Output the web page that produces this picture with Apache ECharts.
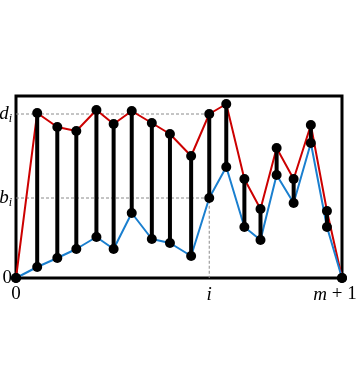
<!DOCTYPE html>
<html>
<head>
<meta charset="utf-8">
<script src="https://cdn.jsdelivr.net/npm/echarts@6/dist/echarts.min.js"></script>
<style>html,body{margin:0;padding:0;background:#fff}#c{width:360px;height:365px}</style>
</head>
<body>
<div id="c"></div>
<script>
// positions along x (index units, 0 .. m+1)
var xs = [0, 1.17, 2.28, 3.33, 4.44, 5.39, 6.39, 7.5, 8.5, 9.67, 10.67, 11.61, 12.61, 13.5, 14.39, 15.33, 16.28, 17.17, 18];
// upper (red) values d
var upper = [0, 165, 151, 147, 168, 154, 167, 155, 144, 122, 164, 174, 99, 69, 130, 99, 153, 67, 0];
// lower (blue) values b
var lower = [0, 11, 20, 29, 41, 29, 65, 39, 35, 22, 80, 111, 51, 38, 103, 75, 135, 51, 0];
var iIdx = 10;
var xMax = 18;
var yMax = 182;

var redPts = xs.map(function (x, k) { return [x, upper[k]]; });
var bluePts = xs.map(function (x, k) { return [x, lower[k]]; });
var stems = [];
for (var k = 1; k < xs.length - 1; k++) stems.push([xs[k], upper[k], lower[k]]);
var xi = xs[iIdx], di = upper[iIdx], bi = lower[iIdx];

var serif = 'Liberation Serif';
var chart = echarts.init(document.getElementById('c'));
chart.setOption({
  animation: false,
  grid: { left: 16, right: 18, top: 96, bottom: 87, containLabel: false, outerBoundsMode: 'none',
    show: true, borderColor: '#000', borderWidth: 3, backgroundColor: 'transparent' },
  xAxis: {
    type: 'value', min: 0, max: xMax,
    axisLine: { show: false }, axisTick: { show: false }, splitLine: { show: false },
    axisLabel: {
      customValues: [0, xi, xMax], margin: 7, color: '#000', fontFamily: serif, fontSize: 19,
      formatter: function (v) {
        if (v === 0) return '{n|0}';
        if (v === xMax) return '{it|m}{n2| + 1}';
        return '{it|i}';
      },
      rich: {
        n: { fontFamily: serif, fontSize: 19, color: '#000' },
        n2: { fontFamily: serif, fontSize: 19, color: '#000', padding: [0, 14, 0, 0] },
        it: { fontFamily: serif, fontSize: 19, fontStyle: 'italic', color: '#000' }
      }
    }
  },
  yAxis: {
    type: 'value', min: 0, max: yMax,
    axisLine: { show: false }, axisTick: { show: false }, splitLine: { show: false },
    axisLabel: {
      customValues: [0, bi, di], margin: 4, color: '#000', fontFamily: serif, fontSize: 19,
      formatter: function (v) {
        if (v === 0) return '{n|0}';
        if (v === di) return '{it|d}{sub|i}';
        return '{it|b}{sub|i}';
      },
      rich: {
        n: { fontFamily: serif, fontSize: 19, color: '#000' },
        it: { fontFamily: serif, fontSize: 19, fontStyle: 'italic', color: '#000' },
        sub: { fontFamily: serif, fontSize: 12, fontStyle: 'italic', color: '#000', padding: [10, 0, 0, 0] }
      }
    }
  },
  series: [
    { type: 'line', data: [[0, di], [xi, di], [xi, 0]], symbol: 'none', silent: true,
      lineStyle: { color: '#8a8a8a', width: 1, type: [3, 2] }, z: 1 },
    { type: 'line', data: [[0, bi], [xi, bi]], symbol: 'none', silent: true,
      lineStyle: { color: '#8a8a8a', width: 1, type: [3, 2] }, z: 1 },
    { type: 'line', data: redPts, symbol: 'none', lineStyle: { color: '#cc0000', width: 2 }, z: 2 },
    { type: 'line', data: bluePts, symbol: 'none', lineStyle: { color: '#1a7fcf', width: 2 }, z: 2 },
    { type: 'custom', data: stems, z: 3,
      renderItem: function (params, api) {
        var p1 = api.coord([api.value(0), api.value(1)]);
        var p2 = api.coord([api.value(0), api.value(2)]);
        return { type: 'line', shape: { x1: p1[0], y1: p1[1], x2: p2[0], y2: p2[1] },
          style: { stroke: '#000', lineWidth: 4 } };
      }
    },
    { type: 'scatter', data: redPts, symbolSize: 10, itemStyle: { color: '#000', opacity: 1 }, z: 4 },
    { type: 'scatter', data: bluePts, symbolSize: 10, itemStyle: { color: '#000', opacity: 1 }, z: 4 }
  ]
});
</script>
</body>
</html>
